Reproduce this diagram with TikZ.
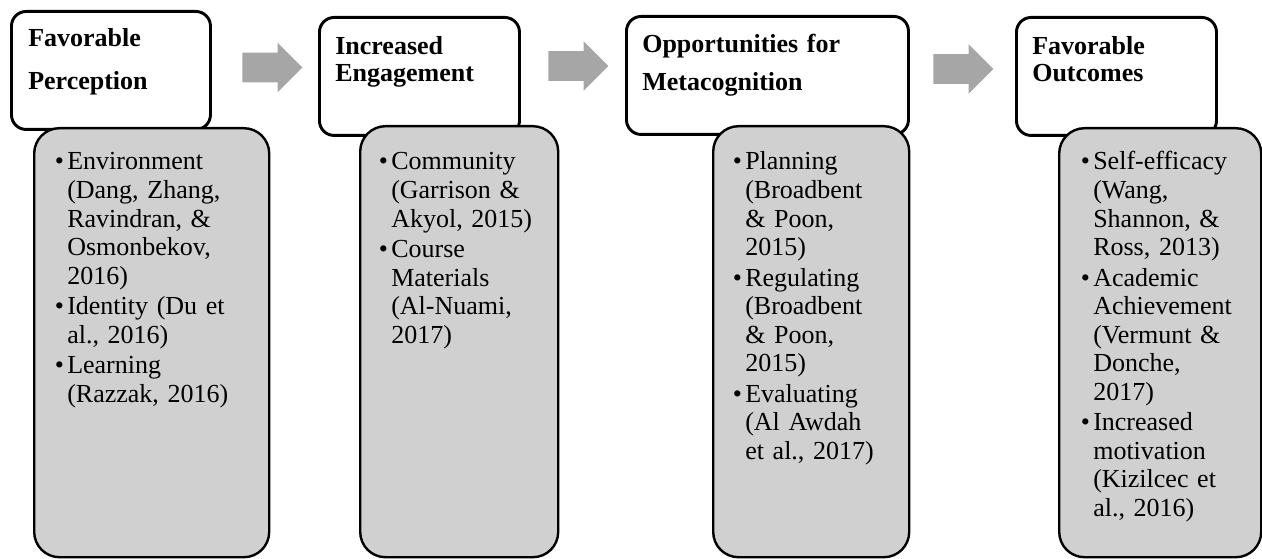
\documentclass[tikz,border=0pt]{standalone}
\usepackage{fontspec}
\setmainfont{Liberation Serif}
\usetikzlibrary{shapes.arrows}
\definecolor{bodygray}{RGB}{208,208,208}
\definecolor{arrowgray}{RGB}{166,166,166}
\newcommand{\bul}{\leavevmode\llap{\textbullet\hspace{2.5pt}}}

\begin{document}
\begin{tikzpicture}[x=0.75pt, y=-0.75pt,
        head/.style={draw, line width=2.2pt, rounded corners=11pt, fill=white, anchor=north west, inner sep=0pt},
        body/.style={draw, line width=1.8pt, rounded corners=19pt, fill=bodygray, anchor=north west, inner sep=0pt},
        title/.style={anchor=base west, align=left, text width=200pt, inner sep=0pt, font=\fontsize{19.5}{20.25}\selectfont\bfseries},
        items/.style={anchor=base west, align=left, text width=140pt, inner sep=0pt, font=\fontsize{19.5}{21.4}\selectfont},
        flow/.style={single arrow, fill=arrowgray, minimum height=45pt, inner xsep=0pt, inner ysep=10.875pt, single arrow head extend=7.5pt}
    ]
        \useasboundingbox (0,0) rectangle (1262,559);

        % Kopfkaesten
        \node[head, minimum width=149.25pt, minimum height=88.5pt] (h1) at (10,10) {};
        \node[head, minimum width=150pt, minimum height=88.5pt] (h2) at (318,16) {};
        \node[head, minimum width=211.5pt, minimum height=88.5pt] (h3) at (625,15) {};
        \node[head, minimum width=150pt, minimum height=88.5pt] (h4) at (1015,16) {};

        % Inhaltskaesten
        \node[body, minimum width=176.25pt, minimum height=321.75pt] (b1) at (33,127) {};
        \node[body, minimum width=148.5pt, minimum height=323.25pt] (b2) at (359,125) {};
        \node[body, minimum width=147pt, minimum height=323.25pt] (b3) at (712,125) {};
        \node[body, minimum width=151.5pt, minimum height=321.75pt] (b4) at (1058,127) {};

        % Pfeile
        \node[flow] (a1) at (265,67.5) {};
        \node[flow] (a2) at (571,66) {};
        \node[flow] (a3) at (956,69) {};

        % Titel
        \node[title] (t1) at (28,47) {Favorable\\[12pt]Perception};
        \node[title] (t2) at (335,55) {Increased\\Engagement};
        \node[title] (t3) at (642,53) {Opportunities for\\[8.25pt]Metacognition};
        \node[title] (t4) at (1032,55) {Favorable\\Outcomes};

        % Listen
        \node[items] (l1) at (67,170) {\bul Environment\\(Dang, Zhang,\\Ravindran, \&\\Osmonbekov,\\2016)\\[1.5pt]
            \bul Identity (Du et\\al., 2016)\\[1.5pt]
            \bul Learning\\(Razzak, 2016)};
        \node[items] (l2) at (391,170) {\bul Community\\(Garrison \&\\Akyol, 2015)\\[1.5pt]
            \bul Course\\Materials\\(Al-Nuami,\\2017)};
        \node[items] (l3) at (745,170) {\bul Planning\\(Broadbent\\\& Poon,\\2015)\\[1.5pt]
            \bul Regulating\\(Broadbent\\\& Poon,\\2015)\\[1.5pt]
            \bul Evaluating\\(Al Awdah\\et al., 2017)};
        \node[items] (l4) at (1093,170) {\bul Self-efficacy\\(Wang,\\Shannon, \&\\Ross, 2013)\\[1.5pt]
            \bul Academic\\Achievement\\(Vermunt \&\\Donche,\\2017)\\[1.5pt]
            \bul Increased\\motivation\\(Kizilcec et\\al., 2016)};
    \end{tikzpicture}
\end{document}
